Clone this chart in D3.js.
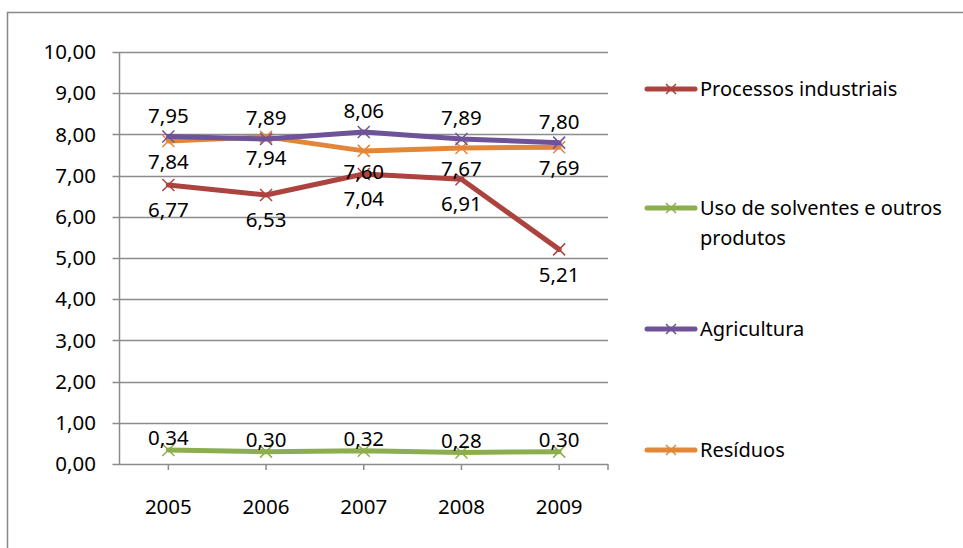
<!DOCTYPE html>
<html>
<head>
<meta charset="utf-8">
<script src="https://cdn.jsdelivr.net/npm/d3@7"></script>
<style>
  body { margin: 0; background: #fff; }
  text { font-family: "Noto Sans", "Open Sans", sans-serif; fill: #000; }
</style>
</head>
<body>
<div id="chart"></div>
<script>
// data
var years = ["2005", "2006", "2007", "2008", "2009"];
var yTicks = [0, 1, 2, 3, 4, 5, 6, 7, 8, 9, 10];
var processos = [6.77, 6.53, 7.04, 6.91, 5.21];
var solventes = [0.34, 0.30, 0.32, 0.28, 0.30];
var agricultura = [7.95, 7.89, 8.06, 7.89, 7.80];
var residuos = [7.84, 7.94, 7.60, 7.67, 7.69];
var seriesNames = ["Processos industriais", "Uso de solventes e outros|produtos", "Agricultura", "Resíduos"];

// labelDy = label offset from the point, in px
var series = [
    { name: seriesNames[0], values: processos, color: "#AD433F", labelDy: 25 },
    { name: seriesNames[1], values: solventes, color: "#8DAE4E", labelDy: -12 },
    { name: seriesNames[2], values: agricultura, color: "#6F5398", labelDy: -21 },
    { name: seriesNames[3], values: residuos, color: "#E2873A", labelDy: 21 }
];
// draw order (orange under purple)
var drawOrder = [3, 2, 0, 1];

var width = 963, height = 548;
var svg = d3.select("#chart").append("svg")
    .attr("width", width)
    .attr("height", height);

// outer chart border (only top / left visible)
svg.append("rect")
    .attr("x", 7.5).attr("y", 12.5)
    .attr("width", 980).attr("height", 560)
    .attr("fill", "none")
    .attr("stroke", "#888")
    .attr("stroke-width", 1.5);

var plotLeft = 119.5, plotRight = 608, plotTop = 52, plotBottom = 464;
var numSize = 20.5, txtSize = 20;

var x = d3.scaleBand().domain(years).range([plotLeft, plotRight]);
var y = d3.scaleLinear().domain([0, 10]).range([plotBottom, plotTop]);
var fmt = function(v) { return d3.format(".2f")(v).replace(".", ","); };

// gridlines
svg.append("g").selectAll("line")
    .data(yTicks)
    .enter().append("line")
    .attr("x1", plotLeft - 7).attr("x2", plotRight)
    .attr("y1", function(d) { return Math.round(y(d)) + 0.5; })
    .attr("y2", function(d) { return Math.round(y(d)) + 0.5; })
    .attr("stroke", "#8c8c8c")
    .attr("stroke-width", 1.5);

// y axis line
svg.append("line")
    .attr("x1", plotLeft).attr("x2", plotLeft)
    .attr("y1", plotTop).attr("y2", plotBottom)
    .attr("stroke", "#8c8c8c").attr("stroke-width", 1.5);

// x ticks
var xt = years.map(function(d) { return x(d) + x.bandwidth() / 2; }).concat([plotRight]);
svg.append("g").selectAll("line")
    .data(xt)
    .enter().append("line")
    .attr("x1", function(d) { return d; }).attr("x2", function(d) { return d; })
    .attr("y1", plotBottom).attr("y2", plotBottom + 6)
    .attr("stroke", "#8c8c8c").attr("stroke-width", 1.5);

// y tick labels
svg.append("g").selectAll("text")
    .data(yTicks)
    .enter().append("text")
    .attr("x", 96)
    .attr("y", function(d) { return y(d); })
    .attr("dy", "0.35em")
    .attr("text-anchor", "end")
    .attr("font-size", numSize)
    .text(function(d) { return fmt(d); });

// x labels
svg.append("g").selectAll("text")
    .data(years)
    .enter().append("text")
    .attr("x", function(d) { return x(d) + x.bandwidth() / 2; })
    .attr("y", 507)
    .attr("dy", "0.35em")
    .attr("text-anchor", "middle")
    .attr("font-size", numSize)
    .text(function(d) { return d; });

var cx = function(d, i) { return x(years[i]) + x.bandwidth() / 2; };
var line = d3.line()
    .x(function(d, i) { return cx(d, i); })
    .y(function(d) { return y(d); });

function cross(g, px, py, color, s) {
    g.append("path")
        .attr("d", "M" + (px - s) + "," + (py - s) + "L" + (px + s) + "," + (py + s) +
                   "M" + (px - s) + "," + (py + s) + "L" + (px + s) + "," + (py - s))
        .attr("stroke", color)
        .attr("stroke-width", 1.5)
        .attr("fill", "none");
}

drawOrder.forEach(function(k) {
    var s = series[k];
    var g = svg.append("g");
    g.append("path")
        .datum(s.values)
        .attr("d", line)
        .attr("fill", "none")
        .attr("stroke", s.color)
        .attr("stroke-width", 5)
        .attr("stroke-linejoin", "round")
        .attr("stroke-linecap", "round");
    s.values.forEach(function(v, i) {
        cross(g, cx(v, i), y(v), s.color, 6);
    });
});

// data labels
series.forEach(function(s) {
    svg.append("g").selectAll("text")
        .data(s.values)
        .enter().append("text")
        .attr("x", function(d, i) { return cx(d, i); })
        .attr("y", function(d) { return y(d) + s.labelDy; })
        .attr("dy", "0.35em")
        .attr("text-anchor", "middle")
        .attr("font-size", numSize)
        .text(function(d) { return fmt(d); });
});

// legend
var legendY = [89, 208, 329, 450];
series.forEach(function(s, i) {
    var g = svg.append("g");
    var ly = legendY[i];
    g.append("line")
        .attr("x1", 647).attr("x2", 695)
        .attr("y1", ly).attr("y2", ly)
        .attr("stroke", s.color)
        .attr("stroke-width", 5)
        .attr("stroke-linecap", "round");
    cross(g, 671, ly, s.color, 5);
    var parts = s.name.split("|");
    parts.forEach(function(p, j) {
        g.append("text")
            .attr("x", 700)
            .attr("y", ly + j * 30)
            .attr("dy", "0.35em")
            .attr("font-size", txtSize)
            .text(p);
    });
});
</script>
</body>
</html>
